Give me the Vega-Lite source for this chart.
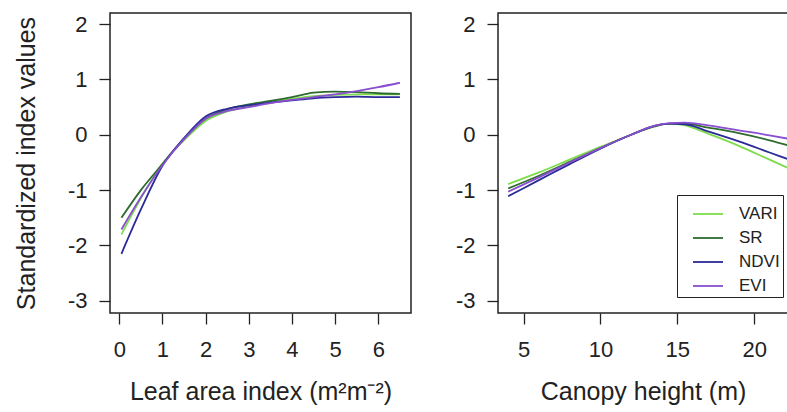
{
  "$schema": "https://vega.github.io/schema/vega-lite/v6.json",
  "padding": {"left": 13, "top": 12, "right": 0, "bottom": 0},
  "background": "white",
  "datasets": {
    "lai": [
      {"lai": 0.05, "value": -1.8, "index": "VARI"},
      {"lai": 0.5, "value": -1.15, "index": "VARI"},
      {"lai": 1.0, "value": -0.52, "index": "VARI"},
      {"lai": 1.5, "value": -0.1, "index": "VARI"},
      {"lai": 2.0, "value": 0.25, "index": "VARI"},
      {"lai": 2.5, "value": 0.42, "index": "VARI"},
      {"lai": 3.0, "value": 0.52, "index": "VARI"},
      {"lai": 3.5, "value": 0.59, "index": "VARI"},
      {"lai": 4.0, "value": 0.65, "index": "VARI"},
      {"lai": 4.5, "value": 0.7, "index": "VARI"},
      {"lai": 5.0, "value": 0.72, "index": "VARI"},
      {"lai": 5.5, "value": 0.73, "index": "VARI"},
      {"lai": 6.0, "value": 0.73, "index": "VARI"},
      {"lai": 6.5, "value": 0.73, "index": "VARI"},
      {"lai": 0.05, "value": -1.5, "index": "SR"},
      {"lai": 0.5, "value": -1.0, "index": "SR"},
      {"lai": 1.0, "value": -0.53, "index": "SR"},
      {"lai": 1.5, "value": -0.07, "index": "SR"},
      {"lai": 2.0, "value": 0.29, "index": "SR"},
      {"lai": 2.5, "value": 0.46, "index": "SR"},
      {"lai": 3.0, "value": 0.55, "index": "SR"},
      {"lai": 3.5, "value": 0.61, "index": "SR"},
      {"lai": 4.0, "value": 0.68, "index": "SR"},
      {"lai": 4.5, "value": 0.76, "index": "SR"},
      {"lai": 5.0, "value": 0.78, "index": "SR"},
      {"lai": 5.5, "value": 0.77, "index": "SR"},
      {"lai": 6.0, "value": 0.75, "index": "SR"},
      {"lai": 6.5, "value": 0.74, "index": "SR"},
      {"lai": 0.05, "value": -2.15, "index": "NDVI"},
      {"lai": 0.5, "value": -1.35, "index": "NDVI"},
      {"lai": 1.0, "value": -0.56, "index": "NDVI"},
      {"lai": 1.5, "value": -0.06, "index": "NDVI"},
      {"lai": 2.0, "value": 0.33, "index": "NDVI"},
      {"lai": 2.5, "value": 0.47, "index": "NDVI"},
      {"lai": 3.0, "value": 0.53, "index": "NDVI"},
      {"lai": 3.5, "value": 0.58, "index": "NDVI"},
      {"lai": 4.0, "value": 0.62, "index": "NDVI"},
      {"lai": 4.5, "value": 0.66, "index": "NDVI"},
      {"lai": 5.0, "value": 0.68, "index": "NDVI"},
      {"lai": 5.5, "value": 0.69, "index": "NDVI"},
      {"lai": 6.0, "value": 0.68, "index": "NDVI"},
      {"lai": 6.5, "value": 0.68, "index": "NDVI"},
      {"lai": 0.05, "value": -1.71, "index": "EVI"},
      {"lai": 0.5, "value": -1.13, "index": "EVI"},
      {"lai": 1.0, "value": -0.55, "index": "EVI"},
      {"lai": 1.5, "value": -0.08, "index": "EVI"},
      {"lai": 2.0, "value": 0.29, "index": "EVI"},
      {"lai": 2.5, "value": 0.43, "index": "EVI"},
      {"lai": 3.0, "value": 0.5, "index": "EVI"},
      {"lai": 3.5, "value": 0.57, "index": "EVI"},
      {"lai": 4.0, "value": 0.63, "index": "EVI"},
      {"lai": 4.5, "value": 0.68, "index": "EVI"},
      {"lai": 5.0, "value": 0.73, "index": "EVI"},
      {"lai": 5.5, "value": 0.79, "index": "EVI"},
      {"lai": 6.0, "value": 0.86, "index": "EVI"},
      {"lai": 6.5, "value": 0.94, "index": "EVI"}
    ],
    "height": [
      {"h": 4.0, "value": -0.89, "index": "VARI"},
      {"h": 6.0, "value": -0.68, "index": "VARI"},
      {"h": 8.0, "value": -0.45, "index": "VARI"},
      {"h": 10.0, "value": -0.22, "index": "VARI"},
      {"h": 12.0, "value": 0.0, "index": "VARI"},
      {"h": 13.5, "value": 0.15, "index": "VARI"},
      {"h": 14.5, "value": 0.2, "index": "VARI"},
      {"h": 15.5, "value": 0.17, "index": "VARI"},
      {"h": 17.0, "value": 0.02, "index": "VARI"},
      {"h": 19.0, "value": -0.2, "index": "VARI"},
      {"h": 21.0, "value": -0.45, "index": "VARI"},
      {"h": 22.2, "value": -0.6, "index": "VARI"},
      {"h": 4.0, "value": -0.97, "index": "SR"},
      {"h": 6.0, "value": -0.74, "index": "SR"},
      {"h": 8.0, "value": -0.49, "index": "SR"},
      {"h": 10.0, "value": -0.24, "index": "SR"},
      {"h": 12.0, "value": 0.0, "index": "SR"},
      {"h": 13.5, "value": 0.15, "index": "SR"},
      {"h": 14.5, "value": 0.2, "index": "SR"},
      {"h": 15.5, "value": 0.2, "index": "SR"},
      {"h": 17.0, "value": 0.13, "index": "SR"},
      {"h": 19.0, "value": 0.03, "index": "SR"},
      {"h": 21.0, "value": -0.1, "index": "SR"},
      {"h": 22.2, "value": -0.19, "index": "SR"},
      {"h": 4.0, "value": -1.11, "index": "NDVI"},
      {"h": 6.0, "value": -0.82, "index": "NDVI"},
      {"h": 8.0, "value": -0.53, "index": "NDVI"},
      {"h": 10.0, "value": -0.25, "index": "NDVI"},
      {"h": 12.0, "value": 0.0, "index": "NDVI"},
      {"h": 13.5, "value": 0.16, "index": "NDVI"},
      {"h": 14.5, "value": 0.2, "index": "NDVI"},
      {"h": 15.5, "value": 0.19, "index": "NDVI"},
      {"h": 17.0, "value": 0.06, "index": "NDVI"},
      {"h": 19.0, "value": -0.12, "index": "NDVI"},
      {"h": 21.0, "value": -0.32, "index": "NDVI"},
      {"h": 22.2, "value": -0.44, "index": "NDVI"},
      {"h": 4.0, "value": -1.03, "index": "EVI"},
      {"h": 6.0, "value": -0.77, "index": "EVI"},
      {"h": 8.0, "value": -0.5, "index": "EVI"},
      {"h": 10.0, "value": -0.24, "index": "EVI"},
      {"h": 12.0, "value": 0.0, "index": "EVI"},
      {"h": 13.5, "value": 0.16, "index": "EVI"},
      {"h": 14.5, "value": 0.21, "index": "EVI"},
      {"h": 15.5, "value": 0.22, "index": "EVI"},
      {"h": 17.0, "value": 0.17, "index": "EVI"},
      {"h": 19.0, "value": 0.08, "index": "EVI"},
      {"h": 21.0, "value": -0.01, "index": "EVI"},
      {"h": 22.2, "value": -0.07, "index": "EVI"}
    ]
  },
  "config": {
    "font": "Liberation Sans",
    "view": {"stroke": "#222", "strokeWidth": 1.5},
    "concat": {"spacing": 87},
    "axis": {
      "labelFont": "Liberation Sans",
      "labelFontSize": 22,
      "labelColor": "#222",
      "labelExpr": "'' + datum.value",
      "titleFont": "Liberation Sans",
      "titleFontSize": 25,
      "titleFontWeight": "normal",
      "titleColor": "#222",
      "tickColor": "#222",
      "tickSize": 11,
      "tickWidth": 1.3,
      "domain": false,
      "grid": false
    },
    "axisX": {"labelPadding": 15, "titlePadding": 19},
    "axisY": {"labelPadding": 12, "titlePadding": 28},
    "line": {"strokeWidth": 1.8}
  },
  "bounds": "flush",
  "resolve": {"scale": {"color": "independent"}, "legend": {"color": "independent"}},
  "hconcat": [
    {
      "width": 301,
      "height": 300,
      "data": {"name": "lai"},
      "mark": {"type": "line", "interpolate": "monotone"},
      "encoding": {
        "x": {"field": "lai", "type": "quantitative", "title": "Leaf area index (m²m⁻²)",
              "scale": {"domain": [-0.215, 6.757], "nice": false, "zero": false},
              "axis": {"values": [0, 1, 2, 3, 4, 5, 6]}},
        "y": {"field": "value", "type": "quantitative", "title": "Standardized index values",
              "scale": {"domain": [-3.22, 2.2], "nice": false, "zero": false},
              "axis": {"values": [-3, -2, -1, 0, 1, 2]}},
        "color": {"field": "index", "type": "nominal", "legend": null,
                  "scale": {"domain": ["VARI", "SR", "NDVI", "EVI"], "range": ["#7ddc4a", "#2e6b2e", "#2a2a99", "#8a4fd0"]}}
      }
    },
    {
      "width": 290,
      "height": 300,
      "data": {"name": "height"},
      "mark": {"type": "line", "interpolate": "monotone"},
      "encoding": {
        "x": {"field": "h", "type": "quantitative", "title": "Canopy height (m)",
              "scale": {"domain": [3.34, 22.2], "nice": false, "zero": false},
              "axis": {"values": [5, 10, 15, 20]}},
        "y": {"field": "value", "type": "quantitative", "title": null,
              "scale": {"domain": [-3.22, 2.2], "nice": false, "zero": false},
              "axis": {"values": [-3, -2, -1, 0, 1, 2]}},
        "color": {"field": "index", "type": "nominal",
                  "scale": {"domain": ["VARI", "SR", "NDVI", "EVI"], "range": ["#7ddc4a", "#2e6b2e", "#2a2a99", "#8a4fd0"]},
                  "legend": {"title": null, "orient": "none", "legendX": 179, "legendY": 182,
                             "symbolType": "stroke", "symbolSize": 900, "symbolStrokeWidth": 2,
                             "symbolOffset": 12, "labelOffset": 15, "rowPadding": -11,
                             "labelFont": "Liberation Sans", "labelFontSize": 17, "labelColor": "#222",
                             "strokeColor": "#222", "fillColor": "white", "padding": 3}}
      }
    }
  ]
}
